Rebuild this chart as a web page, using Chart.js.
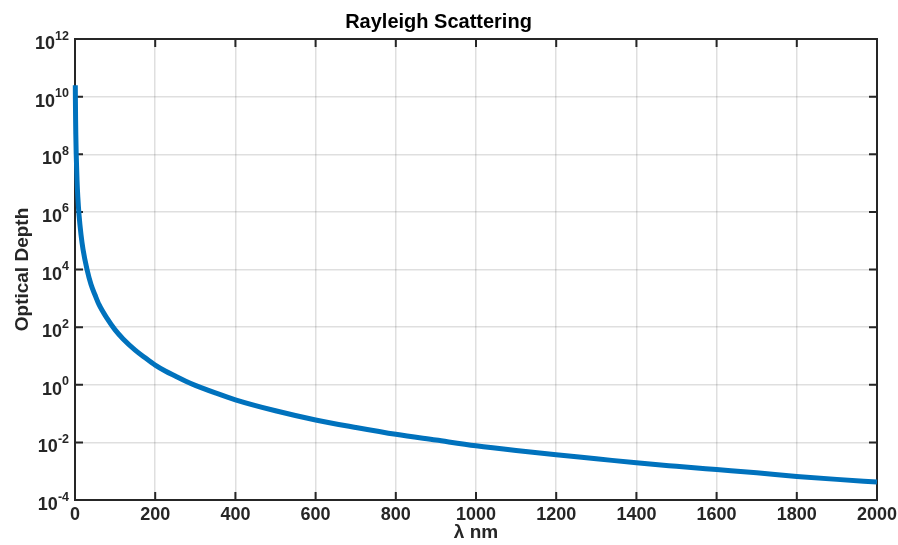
<!DOCTYPE html>
<html>
<head>
<meta charset="utf-8">
<script src="https://cdn.jsdelivr.net/npm/chart.js@4.4.0/dist/chart.umd.min.js"></script>
<style>
  html, body { margin: 0; padding: 0; background: #fff; }
</style>
</head>
<body>
<canvas id="chart" width="898" height="545"></canvas>
<script>
// values
const lambdaNm = [0.75, 1, 1.5, 2, 3, 5, 7, 10, 15, 20, 30, 40, 50, 60, 80, 100, 120, 150, 175, 200, 225, 250, 275, 300, 350, 400, 500, 600, 700, 800, 900, 1000, 1100, 1200, 1300, 1400, 1500, 1600, 1700, 1800, 1900, 2000];
const opticalDepth = [2.5e10, 8e9, 1.6e9, 5e8, 1e8, 1.3e7, 3.3e6, 8e5, 1.6e5, 5e4, 1e4, 3e3, 1.3e3, 6e2, 2e2, 80, 39, 16, 8.6, 4.8, 3.0, 2, 1.35, 0.95, 0.52, 0.3, 0.125, 0.06, 0.033, 0.019, 0.012, 0.0076, 0.0052, 0.0037, 0.0027, 0.00195, 0.00148, 0.00114, 0.00088, 0.00066, 0.00052, 0.00042];
const xTicks = [0, 200, 400, 600, 800, 1000, 1200, 1400, 1600, 1800, 2000];
const yTickExponents = [-4, -2, 0, 2, 4, 6, 8, 10, 12];

const FONT = "'Liberation Sans', Arial, Helvetica, sans-serif";
const AXIS_COLOR = '#262626';
const GRID_COLOR = 'rgba(38,38,38,0.15)';

// box around the axes, inward ticks and 10^n labels
const axesBox = {
    id: 'axesBox',
    beforeDatasetsDraw(chart) {
        const { ctx, chartArea: a, scales: { x, y } } = chart;
        ctx.save();
        ctx.strokeStyle = AXIS_COLOR;
        ctx.lineWidth = 2;
        ctx.beginPath();
        x.ticks.forEach(t => {
            const px = x.getPixelForValue(t.value);
            ctx.moveTo(px, a.bottom); ctx.lineTo(px, a.bottom - 8);
            ctx.moveTo(px, a.top); ctx.lineTo(px, a.top + 8);
        });
        y.ticks.forEach(t => {
            const py = y.getPixelForValue(t.value);
            ctx.moveTo(a.left, py); ctx.lineTo(a.left + 8, py);
            ctx.moveTo(a.right, py); ctx.lineTo(a.right - 8, py);
        });
        ctx.stroke();
        ctx.strokeRect(a.left, a.top, a.right - a.left, a.bottom - a.top);
        ctx.restore();
    },
    afterDraw(chart) {
        const { ctx, scales: { y } } = chart;
        ctx.save();
        ctx.fillStyle = AXIS_COLOR;
        ctx.textAlign = 'right';
        ctx.textBaseline = 'alphabetic';
        yTickExponents.forEach(e => {
            const py = y.getPixelForValue(Math.pow(10, e));
            const right = 69;
            ctx.font = 'bold 12.5px ' + FONT;
            const exp = String(e);
            ctx.fillText(exp, right, py + 0.5);
            const w = ctx.measureText(exp).width;
            ctx.font = 'bold 18px ' + FONT;
            ctx.fillText('10', right - w, py + 10);
        });
        ctx.restore();
    }
};

new Chart(document.getElementById('chart'), {
    type: 'line',
    data: {
        datasets: [{
            data: lambdaNm.map((l, i) => ({ x: l, y: opticalDepth[i] })),
            borderColor: '#0072BD',
            borderWidth: 5,
            pointRadius: 0,
            cubicInterpolationMode: 'monotone',
            fill: false,
            clip: 10
        }]
    },
    options: {
        responsive: false,
        animation: false,
        layout: { padding: { left: 0, right: 21, top: 0, bottom: 0 } },
        plugins: {
            legend: { display: false },
            tooltip: { enabled: false },
            title: {
                display: true,
                text: 'Rayleigh Scattering',
                color: '#000',
                font: { family: FONT, size: 20, weight: 'bold' },
                padding: { top: 10, bottom: 5 }
            }
        },
        scales: {
            x: {
                type: 'linear',
                min: 0,
                max: 2000,
                afterBuildTicks: s => { s.ticks = xTicks.map(v => ({ value: v })); },
                afterFit: s => { s.height = 45; s.paddingRight = 0; s.paddingLeft = 0; },
                ticks: {
                    color: AXIS_COLOR,
                    font: { family: FONT, size: 18, weight: 'bold' },
                    padding: 4,
                    maxRotation: 0,
                    autoSkip: false,
                    callback: v => String(v)
                },
                grid: { color: GRID_COLOR, lineWidth: 1.5, drawTicks: false },
                border: { display: false },
                title: {
                    display: true,
                    text: 'λ nm',
                    color: AXIS_COLOR,
                    font: { family: FONT, size: 19, weight: 'bold' },
                    padding: { top: 0, bottom: 1 }
                }
            },
            y: {
                type: 'logarithmic',
                min: 1e-4,
                max: 1e12,
                afterBuildTicks: s => { s.ticks = yTickExponents.map(e => ({ value: Math.pow(10, e) })); },
                afterFit: s => { s.width = 75; },
                ticks: { display: false },
                grid: { color: GRID_COLOR, lineWidth: 1.5, drawTicks: false },
                border: { display: false },
                title: {
                    display: true,
                    text: 'Optical Depth',
                    color: AXIS_COLOR,
                    font: { family: FONT, size: 19, weight: 'bold' },
                    padding: { top: 11, bottom: 0 }
                }
            }
        }
    },
    plugins: [axesBox]
});
</script>
</body>
</html>
